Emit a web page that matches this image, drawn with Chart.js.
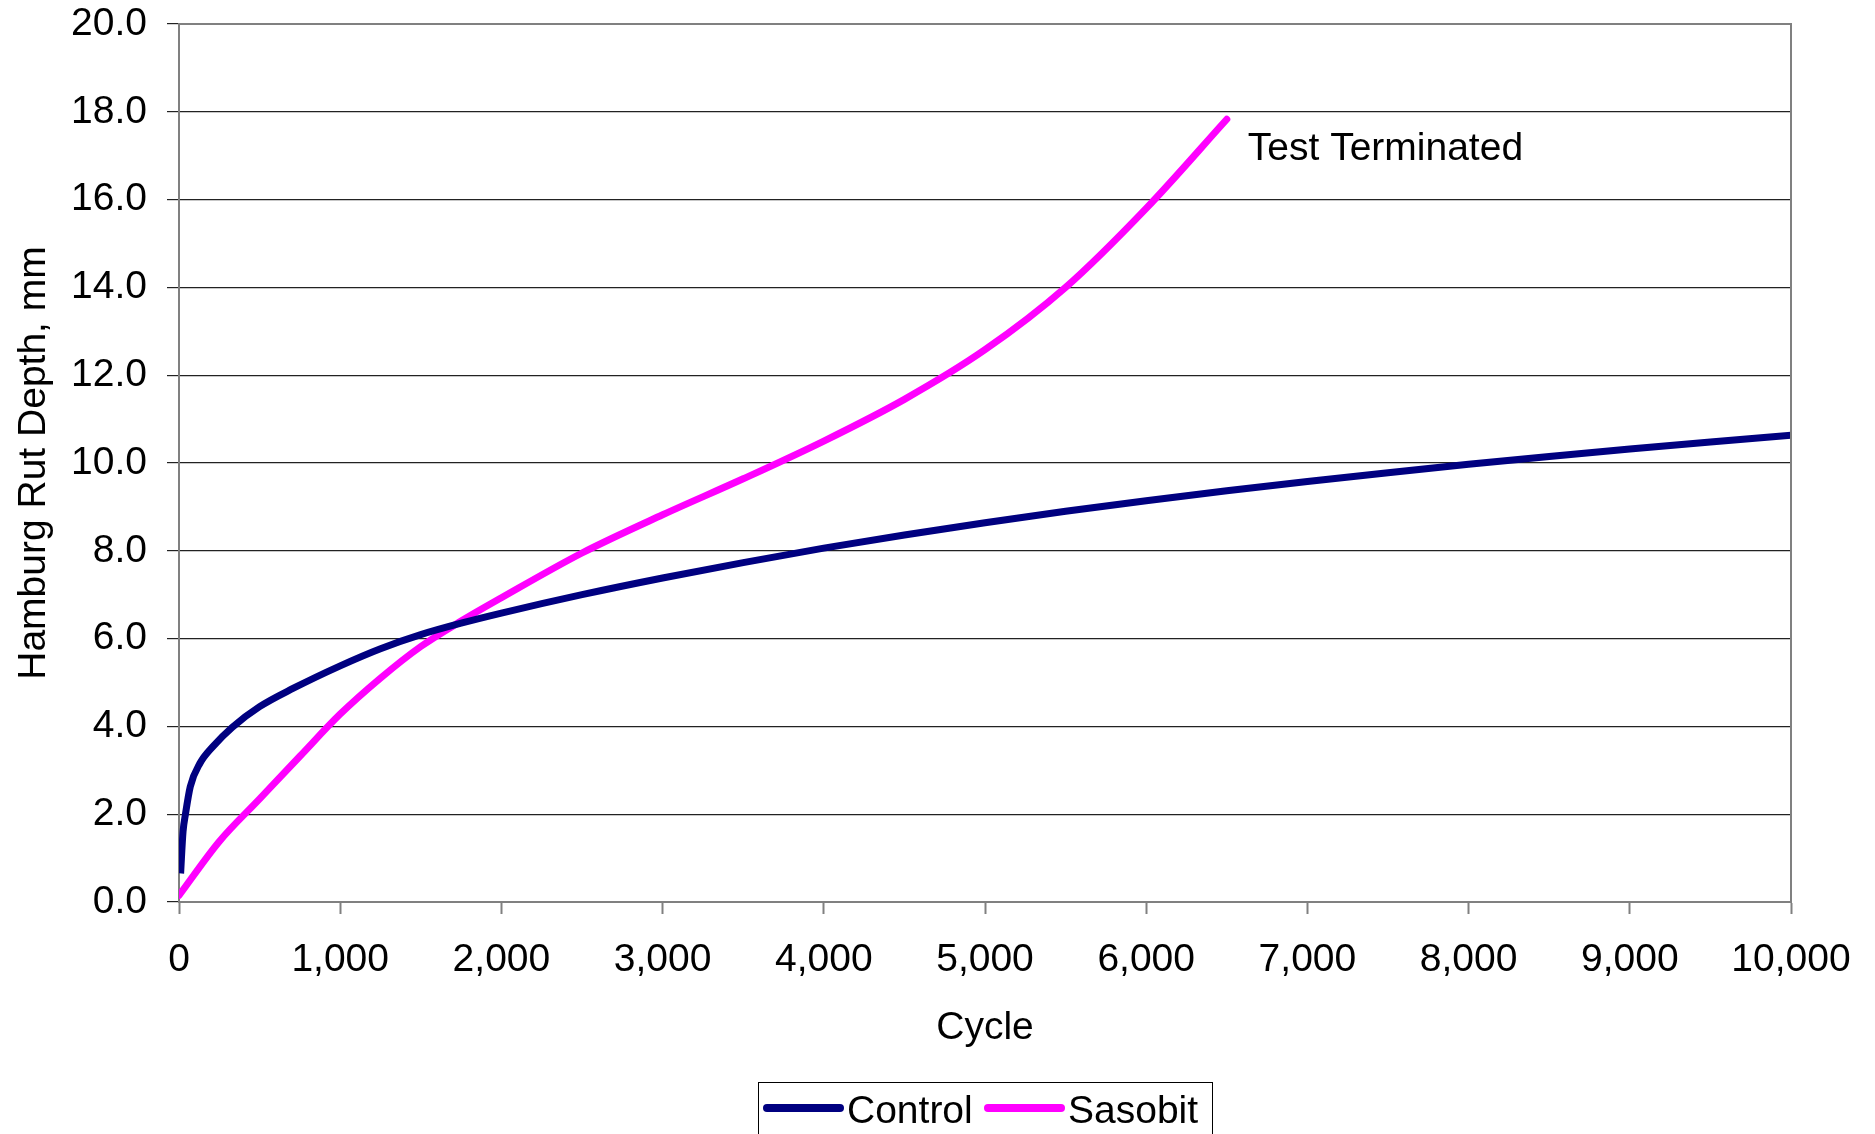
<!DOCTYPE html>
<html>
<head>
<meta charset="utf-8">
<title>Hamburg Rut Depth</title>
<script src="https://cdn.jsdelivr.net/npm/chart.js@4.4.1/dist/chart.umd.min.js"></script>
<style>
  html, body { margin: 0; padding: 0; background: #fff; }
  #wrap { width: 1875px; height: 1134px; }
</style>
</head>
<body>
<div id="wrap"><canvas id="rutChart"></canvas></div>
<script>
// Hamburg wheel tracking: rut depth vs. load cycles

const controlCycles = [10, 25, 40, 70, 130, 210, 330, 500, 710, 1000, 1250, 1500, 1750, 2000, 2500, 3000, 3500, 4000, 4500, 5000, 5500, 6000, 6500, 7000, 7500, 8000, 8500, 9000, 9500, 10000];
const controlDepth  = [0.65, 1.6, 2.0, 2.63, 3.16, 3.54, 3.98, 4.45, 4.87, 5.38, 5.77, 6.09, 6.35, 6.58, 7.0, 7.38, 7.73, 8.06, 8.36, 8.64, 8.9, 9.14, 9.37, 9.58, 9.78, 9.97, 10.15, 10.32, 10.48, 10.63];

const sasobitCycles = [0, 250, 500, 750, 1000, 1250, 1500, 1750, 2000, 2500, 3000, 3500, 4000, 4500, 5000, 5500, 6000, 6500];
const sasobitDepth  = [0.15, 1.38, 2.35, 3.32, 4.28, 5.1, 5.82, 6.4, 6.93, 7.95, 8.82, 9.64, 10.5, 11.45, 12.58, 14.0, 15.8, 17.83];

const seriesNames  = ['Control', 'Sasobit'];
const seriesColors = ['#000080', '#ff00ff'];
const endNote = 'Test Terminated';

const FONT = 39;
Chart.defaults.font.family = '"Liberation Sans", Arial, sans-serif';
Chart.defaults.font.size = FONT;
Chart.defaults.color = '#000';

function toPoints(xs, ys) {
  return xs.map((x, i) => ({ x: x, y: ys[i] }));
}

// frame, legend box and the end-of-test note
const extras = {
  id: 'extras',
  afterDraw(chart) {
    const ctx = chart.ctx;
    const a = chart.chartArea;
    const xs = chart.scales.x;
    const ys = chart.scales.y;

    ctx.save();
    // top and right border of the plot
    ctx.strokeStyle = '#808080';
    ctx.lineWidth = 2;
    ctx.beginPath();
    ctx.moveTo(a.left, a.top);
    ctx.lineTo(a.right, a.top);
    ctx.lineTo(a.right, a.bottom);
    ctx.stroke();

    // note next to the last Sasobit reading
    const lastX = sasobitCycles[sasobitCycles.length - 1];
    const lastY = sasobitDepth[sasobitDepth.length - 1];
    ctx.fillStyle = '#000';
    ctx.font = FONT + 'px "Liberation Sans", Arial, sans-serif';
    ctx.textAlign = 'left';
    ctx.textBaseline = 'alphabetic';
    ctx.fillText(endNote, xs.getPixelForValue(lastX) + 21, ys.getPixelForValue(lastY) + 41);

    // legend
    const box = { left: 758, top: 1082, right: 1212, bottom: 1140 };
    ctx.strokeStyle = '#000';
    ctx.lineWidth = 1;
    ctx.strokeRect(box.left + 0.5, box.top + 0.5, box.right - box.left, box.bottom - box.top);

    const entries = [
      { x0: 767, x1: 840, tx: 847 },
      { x0: 988, x1: 1061, tx: 1068 }
    ];
    entries.forEach((e, i) => {
      ctx.strokeStyle = seriesColors[i];
      ctx.lineWidth = 8;
      ctx.lineCap = 'round';
      ctx.beginPath();
      ctx.moveTo(e.x0, 1108);
      ctx.lineTo(e.x1, 1108);
      ctx.stroke();
      ctx.fillStyle = '#000';
      ctx.fillText(seriesNames[i], e.tx, 1123);
    });
    ctx.restore();
  }
};

new Chart(document.getElementById('rutChart'), {
  type: 'line',
  data: {
    datasets: [
      {
        label: seriesNames[0],
        data: toPoints(controlCycles, controlDepth),
        borderColor: seriesColors[0],
        borderWidth: 7,
        pointRadius: 0,
        cubicInterpolationMode: 'monotone',
        borderCapStyle: 'butt',
        fill: false
      },
      {
        label: seriesNames[1],
        data: toPoints(sasobitCycles, sasobitDepth),
        borderColor: seriesColors[1],
        borderWidth: 7,
        pointRadius: 0,
        cubicInterpolationMode: 'monotone',
        borderCapStyle: 'round',
        fill: false
      }
    ]
  },
  options: {
    responsive: true,
    maintainAspectRatio: false,
    animation: false,
    layout: { padding: { left: 0, top: 24, right: 84, bottom: 0 } },
    plugins: {
      legend: { display: false },
      tooltip: { enabled: false }
    },
    scales: {
      x: {
        type: 'linear',
        min: 0,
        max: 10000,
        afterFit(scale) { scale.height = 232; },
        ticks: {
          stepSize: 1000,
          padding: 23,
          maxRotation: 0,
          callback: v => v.toLocaleString('en-US')
        },
        grid: {
          drawOnChartArea: false,
          tickLength: 12,
          tickColor: '#808080',
          tickWidth: 2
        },
        border: { color: '#808080', width: 2 },
        title: {
          display: true,
          text: 'Cycle',
          padding: { top: 0, bottom: 82 }
        }
      },
      y: {
        min: 0,
        max: 20,
        afterFit(scale) {
          scale.width = 179;
          // the top label may hang over the frame; layout padding covers it
          scale.paddingTop = 0;
          scale.paddingBottom = 0;
        },
        ticks: {
          stepSize: 2,
          padding: 20,
          callback: v => v.toFixed(1)
        },
        grid: {
          color: '#222',
          lineWidth: 1.2,
          tickLength: 12,
          tickColor: '#222'
        },
        border: { color: '#808080', width: 2 },
        title: {
          display: true,
          text: 'Hamburg Rut Depth, mm',
          padding: { top: 11, bottom: 0 }
        }
      }
    }
  },
  plugins: [extras]
});
</script>
</body>
</html>
